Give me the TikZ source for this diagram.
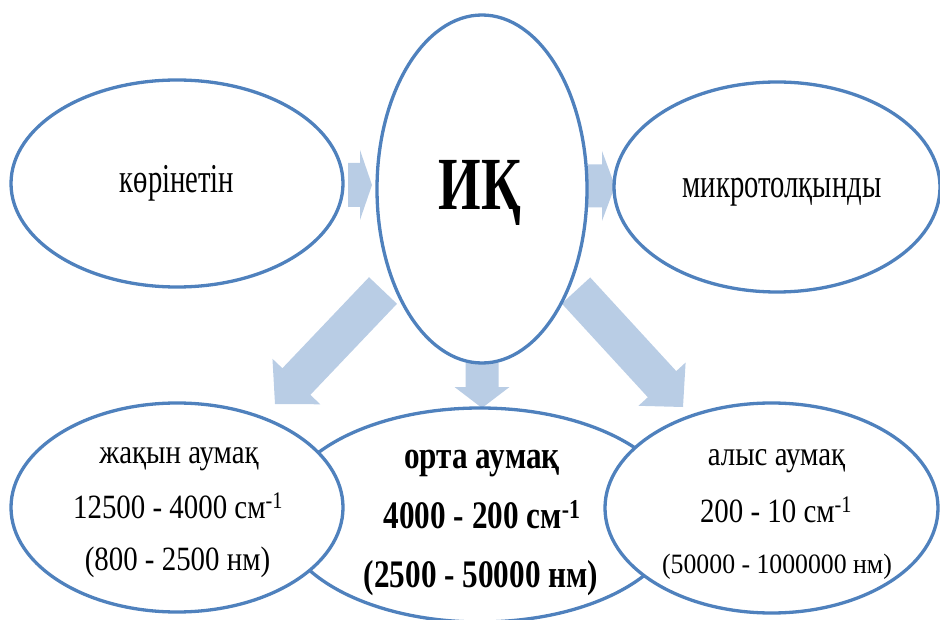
\documentclass[tikz,border=0pt]{standalone}
\usepackage{fontspec}
\setmainfont{Liberation Serif}
\usepackage{graphicx}
\usetikzlibrary{shapes.geometric,calc}
\definecolor{ellblue}{RGB}{79,129,189}
\definecolor{arrblue}{RGB}{185,205,229}
\tikzset{
  ell/.style={ellipse, draw=ellblue, line width=3.3pt, fill=white, inner sep=0pt},
  txt/.style={anchor=base, inner sep=0pt},
  arrowfill/.style={fill=arrblue}
}
% #1 tail, #2 tip, #3 body half width, #4 head half width, #5 head length
\newcommand\fatarrow[5]{%
  \path ($(#2)!#5!(#1)$) coordinate (hb);
  \fill[arrowfill] ($(#1)!#3!90:(#2)$) -- ($(hb)!#3!90:(#2)$) -- ($(hb)!#4!90:(#2)$) -- (#2)
     -- ($(hb)!#4!-90:(#2)$) -- ($(hb)!#3!-90:(#2)$) -- ($(#1)!#3!-90:(#2)$) -- cycle;}
\newcommand\tx[3]{\fontsize{#1pt}{#1pt}\selectfont\scalebox{#2}[1]{#3}}
\begin{document}
\begin{tikzpicture}[x=1pt,y=-1pt]
\useasboundingbox (0,0) rectangle (940,620);
% arrow end points
\coordinate (a1s) at (348,185);   \coordinate (a1e) at (372,185);
\coordinate (a2s) at (588,186);   \coordinate (a2e) at (615,186);
\coordinate (a3s) at (482,363);   \coordinate (a3e) at (482,408);
\coordinate (a4s) at (383,290.5); \coordinate (a4e) at (275,404);
\coordinate (a5s) at (576,290.5); \coordinate (a5e) at (683,407);
\fatarrow{a1s}{a1e}{22pt}{35pt}{12pt}
\fatarrow{a2s}{a2e}{21.5pt}{35pt}{13pt}
\fatarrow{a3s}{a3e}{16.5pt}{27.5pt}{21pt}
\fatarrow{a4s}{a4e}{19.3pt}{33pt}{31pt}
\fatarrow{a5s}{a5e}{19.3pt}{32pt}{31pt}
% ellipses
\node[ell, minimum width=332pt, minimum height=207pt] (vis) at (177,183.5) {};
\node[ell, minimum width=210pt, minimum height=348pt] (ik) at (482,189) {};
\node[ell, minimum width=326pt, minimum height=210pt] (mic) at (777,187) {};
\node[ell, minimum width=398pt, minimum height=214pt] (mid) at (480,515) {};
\node[ell, minimum width=332pt, minimum height=209pt] (near) at (177,507.5) {};
\node[ell, minimum width=333pt, minimum height=210pt] (far) at (771.5,508) {};
% texts
\node[txt] (tvis) at (177,193) {\tx{41}{0.70}{көрінетін}};
\node[txt] (tik) at (480,210) {\tx{75}{0.73}{\bfseries ИҚ}};
\node[txt] (tmic) at (782,198) {\tx{41}{0.70}{микротолқынды}};
\node[txt] (tn1) at (179,463) {\tx{34}{0.85}{жақын аумақ}};
\node[txt] (tn2) at (178,518) {\tx{34}{0.85}{12500 - 4000 см\textsuperscript{-1}}};
\node[txt] (tn3) at (177.5,570) {\tx{34}{0.85}{(800 - 2500 нм)}};
\node[txt] (tm1) at (482,468) {\tx{39}{0.80}{\bfseries орта аумақ}};
\node[txt] (tm2) at (482,528) {\tx{39}{0.80}{\bfseries 4000 - 200 см\textsuperscript{-1}}};
\node[txt] (tm3) at (481,587) {\tx{39}{0.80}{\bfseries (2500 - 50000 нм)}};
\node[txt] (tf1) at (776.5,465) {\tx{34}{0.85}{алыс аумақ}};
\node[txt] (tf2) at (776,522) {\tx{34}{0.85}{200 - 10 см\textsuperscript{-1}}};
\node[txt] (tf3) at (777,573) {\tx{28}{0.92}{(50000 - 1000000 нм)}};
\end{tikzpicture}
\end{document}
